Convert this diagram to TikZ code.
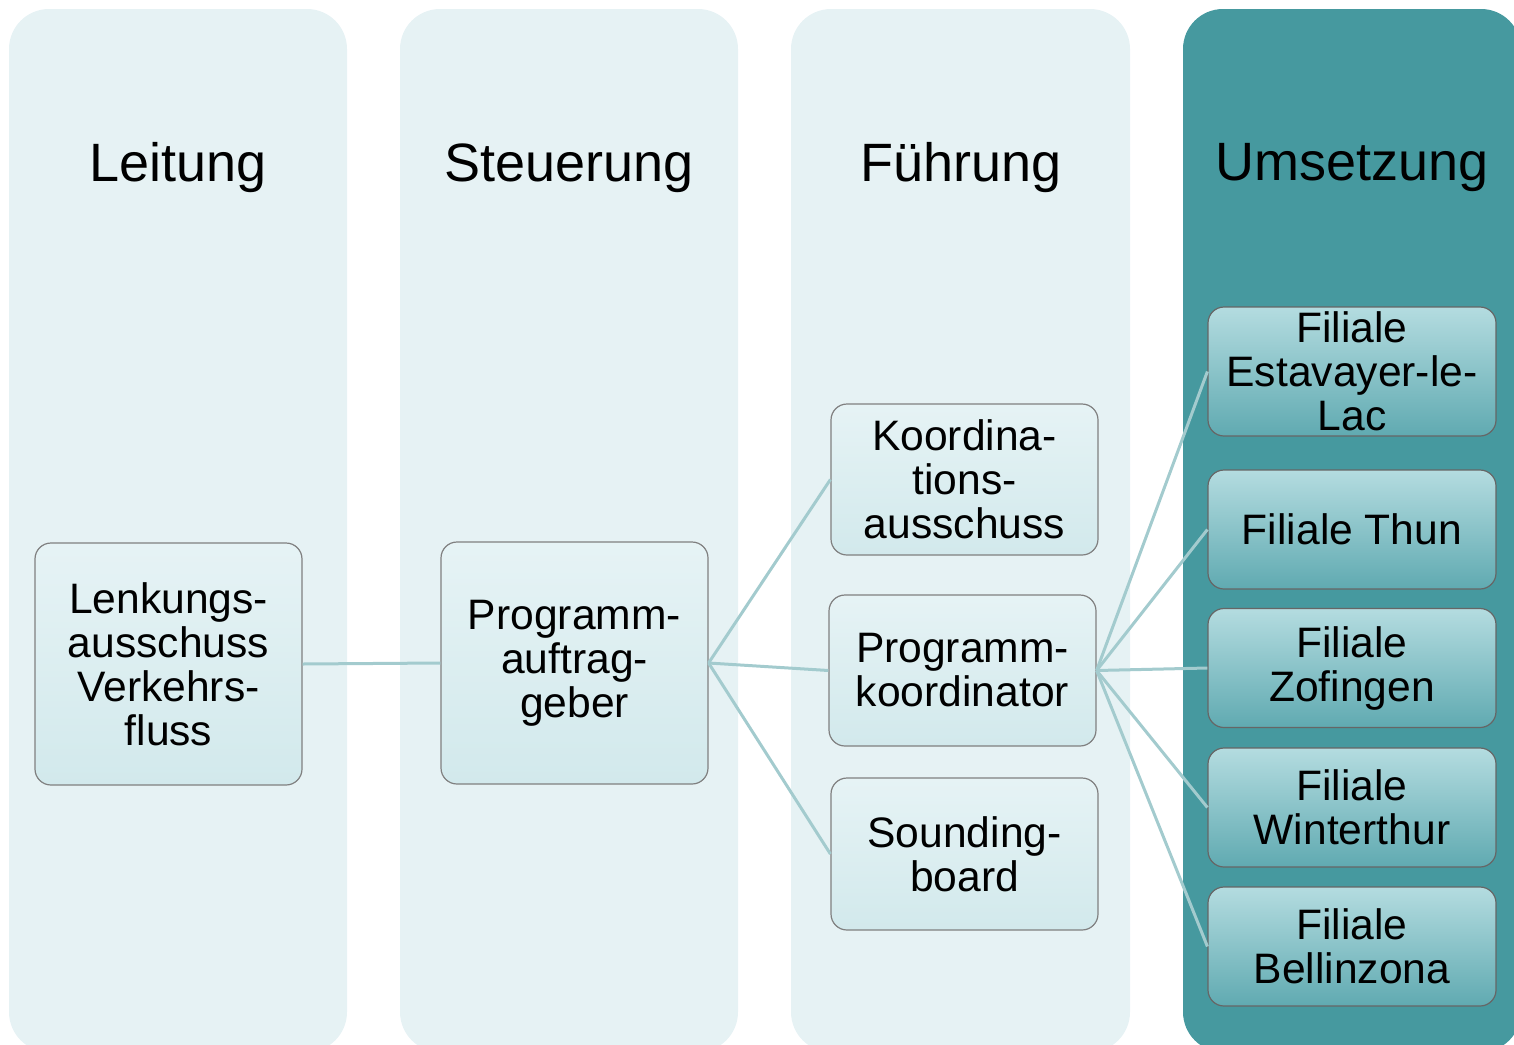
\documentclass[tikz,border=0pt]{standalone}
\usepackage{fontspec}
\setmainfont{Liberation Sans}
\usepackage{tikz}
\usepackage{xcolor}
\usetikzlibrary{calc,positioning}
\definecolor{colbg}{HTML}{E6F2F4}
\definecolor{colteal}{HTML}{46999F}
\definecolor{linkcol}{HTML}{A3CBCE}
\definecolor{boxtop}{HTML}{E6F3F5}
\definecolor{boxbot}{HTML}{D2E9EC}
\definecolor{filtop}{HTML}{B4DCE0}
\definecolor{filbot}{HTML}{60AAB1}

\tikzset{
  lane/.style={rounded corners=20pt},
  orgbox/.style={draw=black!50, line width=0.6pt, rounded corners=8pt,
    top color=boxtop, bottom color=boxbot, align=center, inner sep=0pt,
    font=\fontsize{21.3}{22}\selectfont},
  filbox/.style={orgbox, draw=black!60, top color=filtop, bottom color=filbot,
    minimum width=144pt, minimum height=59.5pt},
  link/.style={linkcol, line width=1.5pt},
  lanehead/.style={font=\fontsize{27}{30}\selectfont}
}

\begin{document}
\begin{tikzpicture}[x=0.5pt, y=-0.5pt]
  \useasboundingbox (0,0) rectangle (1514,1044);
  % lanes
  \fill[colbg,lane] (9,9) rectangle (347,1052);
  \fill[colbg,lane] (400,9) rectangle (738,1052);
  \fill[colbg,lane] (791,9) rectangle (1130,1052);
  \fill[colteal,lane] (1183,9) rectangle (1521,1052);
  \node[lanehead] (hLeit) at (178,168) {Leitung};
  \node[lanehead] (hSteu) at (569,168) {Steuerung};
  \node[lanehead] (hFuehr) at (961,168) {Führung};
  \node[lanehead] (hUms) at (1352,168) {Umsetzung};

  % boxes
  \node[orgbox, minimum width=133.5pt, minimum height=121pt] (lenk) at (168.5,664)
    {Lenkungs-\\ausschuss\\Verkehrs-\\fluss};
  \node[orgbox, minimum width=133.5pt, minimum height=121pt] (auftrag) at (574.5,663)
    {Programm-\\auftrag-\\geber};
  \node[orgbox, minimum width=133.5pt, minimum height=75.5pt] (koordaus) at (964.5,479.5)
    {Koordina-\\tions-\\ausschuss};
  \node[orgbox, minimum width=133.5pt, minimum height=75.5pt] (progkoord) at (962.5,670.5)
    {Programm-\\koordinator};
  \node[orgbox, minimum width=133.5pt, minimum height=76pt] (sound) at (964.5,854)
    {Sounding-\\board};

  \node[filbox, minimum height=64.5pt] (estav) at (1352,371.5) {Filiale\\Estavayer-le-\\Lac};
  \node[filbox] (thun) at (1352,529.5) {Filiale Thun};
  \node[filbox] (zof) at (1352,668) {Filiale\\Zofingen};
  \node[filbox] (winti) at (1352,807.5) {Filiale\\Winterthur};
  \node[filbox] (bell) at (1352,946.5) {Filiale\\Bellinzona};

  % links
  \draw[link] (lenk.east) -- (auftrag.west);
  \foreach \t in {koordaus,progkoord,sound}
    {\draw[link] (auftrag.east) -- (\t.west);}
  \foreach \t in {estav,thun,zof,winti,bell}
    {\draw[link] (progkoord.east) -- (\t.west);}
\end{tikzpicture}
\end{document}
